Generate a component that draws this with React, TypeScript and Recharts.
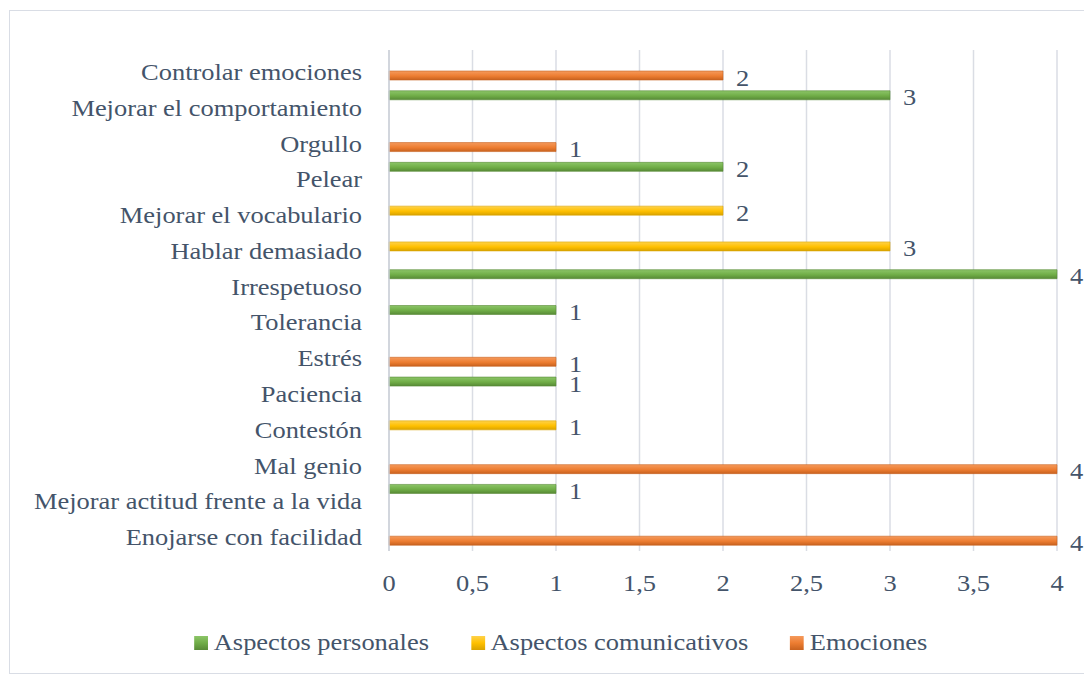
import React from 'react';
import {
  BarChart, Bar, XAxis, YAxis, CartesianGrid, Legend, LabelList
} from 'recharts';

// categorías de arriba hacia abajo
const categorias = [
  'Controlar emociones',
  'Mejorar el comportamiento',
  'Orgullo',
  'Pelear',
  'Mejorar el vocabulario',
  'Hablar demasiado',
  'Irrespetuoso',
  'Tolerancia',
  'Estrés',
  'Paciencia',
  'Contestón',
  'Mal genio',
  'Mejorar actitud frente a la vida',
  'Enojarse con facilidad',
];

const personales = [null, 3, null, 2, null, null, 4, 1, null, 1, null, null, 1, null];
const comunicativos = [null, null, null, null, 2, 3, null, null, null, null, 1, null, null, null];
const emociones = [2, null, 1, null, null, null, null, null, 1, null, null, 4, null, 4];

const xTicks = [0, 0.5, 1, 1.5, 2, 2.5, 3, 3.5, 4];

const series = [
  { key: 'personales', name: 'Aspectos personales', color: '#70AD47', light: '#8CC568', dark: '#578A36' },
  { key: 'comunicativos', name: 'Aspectos comunicativos', color: '#FFC000', light: '#FFD24A', dark: '#D9A300' },
  { key: 'emociones', name: 'Emociones', color: '#ED7D31', light: '#F59A5C', dark: '#C8621F' },
];

const data = categorias.map((cat, i) => ({
  cat,
  personales: personales[i],
  comunicativos: comunicativos[i],
  emociones: emociones[i],
}));

const FONT = "'Liberation Serif', 'Times New Roman', serif";
const TEXT = '#44546A';

// texto algo ensanchado, como en el original
const Wide = ({ x, y, anchor, children }: any) => (
  <text
    transform={`translate(${x},${y}) scale(1.15,1)`}
    textAnchor={anchor}
    dy="0.35em"
    fontFamily={FONT}
    fontSize={23}
    fill={TEXT}
  >
    {children}
  </text>
);

const YTick = ({ x, y, payload }: any) => (
  <Wide x={x} y={y + 4} anchor="end">{payload.value}</Wide>
);

const XTick = ({ x, y, payload }: any) => (
  <Wide x={x} y={y + 32} anchor="middle">{String(payload.value).replace('.', ',')}</Wide>
);

const ValueLabel = ({ x, y, width, height, value }: any) => {
  if (value === null || value === undefined) return null;
  return <Wide x={x + width + 13} y={y + height / 2 + 2} anchor="start">{value}</Wide>;
};

const LegendBox = () => (
  <div style={{ height: 30, display: 'flex', justifyContent: 'center', alignItems: 'center', paddingLeft: 54 }}>
    <div style={{ display: 'flex', alignItems: 'center', transform: 'scaleX(1.15)', fontFamily: FONT, fontSize: 23, color: TEXT }}>
      {series.map((s, i) => (
        <div key={s.key} style={{ display: 'flex', alignItems: 'center', flexShrink: 0, marginLeft: i === 0 ? 0 : 36.5 }}>
          <span style={{ display: 'block', flexShrink: 0, width: 12, height: 14, background: `linear-gradient(${s.light}, ${s.color} 50%, ${s.dark})`, marginRight: 5 }} />
          <span style={{ whiteSpace: 'nowrap' }}>{s.name}</span>
        </div>
      ))}
    </div>
  </div>
);

export default function App() {
  return (
    <div style={{ marginLeft: 1, marginTop: 2, width: 1082, height: 662, border: '1px solid #D9DDE5', borderRight: 'none', background: '#fff' }}>
      <BarChart
        width={1081}
        height={660}
        data={data}
        layout="vertical"
        margin={{ top: 39, right: 34, bottom: 13, left: 0 }}
        barSize={9}
        barGap={-1}
      >
        <defs>
          {series.map((s) => (
            <linearGradient key={s.key} id={`grad-${s.key}`} x1="0" y1="0" x2="0" y2="1">
              <stop offset="0%" stopColor={s.light} />
              <stop offset="55%" stopColor={s.color} />
              <stop offset="100%" stopColor={s.dark} />
            </linearGradient>
          ))}
        </defs>
        <CartesianGrid horizontal={false} stroke="#DADDE4" strokeWidth={1.5} />
        <XAxis
          type="number"
          domain={[0, 4]}
          ticks={xTicks}
          interval={0}
          axisLine={false}
          tickLine={false}
          tickSize={0}
          tickMargin={0}
          height={77}
          tick={<XTick />}
        />
        <YAxis
          type="category"
          dataKey="cat"
          width={379}
          interval={0}
          axisLine={{ stroke: '#CDD1D9', strokeWidth: 1.5 }}
          tickLine={false}
          tickSize={0}
          tickMargin={27}
          tick={<YTick />}
        />
        <Legend verticalAlign="bottom" height={30} content={<LegendBox />} />
        {series.map((s) => (
          <Bar
            key={s.key}
            dataKey={s.key}
            name={s.name}
            fill={`url(#grad-${s.key})`}
            stroke={s.dark}
            strokeWidth={0.6}
            isAnimationActive={false}
          >
            <LabelList dataKey={s.key} content={<ValueLabel />} />
          </Bar>
        ))}
      </BarChart>
    </div>
  );
}
